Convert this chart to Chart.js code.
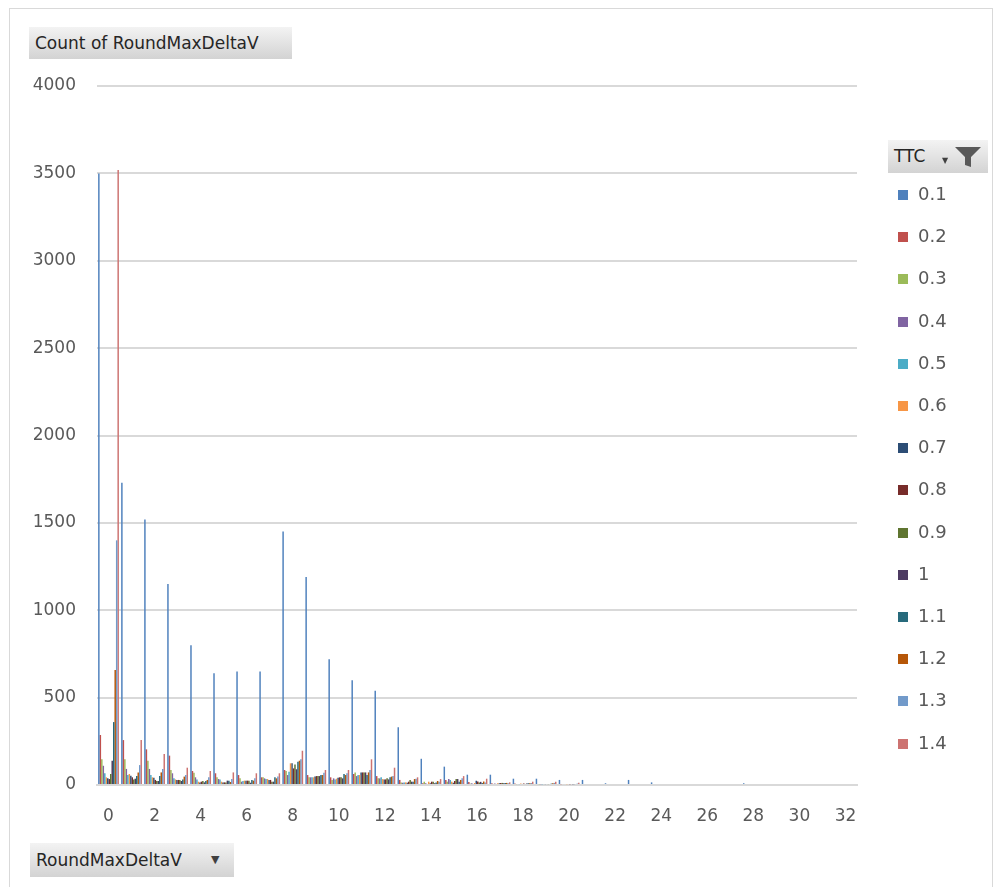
<!DOCTYPE html>
<html lang="en">
<head>
<meta charset="UTF-8">
<title>Count of RoundMaxDeltaV</title>
<script src="https://cdn.jsdelivr.net/npm/chart.js"></script>
<style>
  body { margin: 0; background: #fff; font-family: 'DejaVu Sans', sans-serif; }
  #frame {
    position: absolute; left: 9px; top: 8px; width: 982px; height: 900px;
    border: 1px solid #d9d9d9;
  }
  #chart { position: absolute; left: 0; top: 0; }
  .field {
    position: absolute; box-sizing: border-box;
    background: linear-gradient(#f3f3f3, #d3d3d3);
    color: #262626; font-size: 17px; padding-left: 6px;
  }
  .arrow { position: absolute; font-size: 11px; color: #404040; }
  #legend { position: absolute; left: 898px; top: 186px; }
  .item { position: absolute; left: 0; height: 18px; white-space: nowrap; }
  .item span.box { position: absolute; left: 0; top: 4px; width: 10px; height: 10px; }
  .item span.txt { position: absolute; left: 20px; top: -3px; font-size: 18px; color: #595959; }
</style>
</head>
<body>
<div id="frame"></div>
<canvas id="chart" width="998" height="887"></canvas>

<div class="field" style="left:29px;top:27px;width:263px;height:32px;line-height:32px;">Count of RoundMaxDeltaV</div>
<div class="field" style="left:30px;top:843px;width:204px;height:34px;line-height:34px;">RoundMaxDeltaV
  <span class="arrow" style="left:181px;top:0;">&#9660;</span>
</div>
<div class="field" style="left:888px;top:140px;width:100px;height:33px;line-height:33px;">TTC
  <span class="arrow" style="left:54px;top:4px;font-size:8px;">&#9660;</span>
  <svg style="position:absolute;left:66px;top:6px;" width="28" height="22" viewBox="0 0 28 22">
    <polygon points="1,1 27,1 17,11 17,21 11,19 11,11" fill="#595959"/>
  </svg>
</div>
<div id="legend"></div>

<script>
// RoundMaxDeltaV categories
const categories = ['0','1','2','3','4','5','6','7','8','9','10','11','12','13','14','15','16',
  '17','18','19','20','21','22','23','24','25','26','27','28','29','30','31','32'];

// TTC series names and colours
const seriesNames = ['0.1','0.2','0.3','0.4','0.5','0.6','0.7','0.8','0.9','1','1.1','1.2','1.3','1.4'];
const seriesColors = ['#4F81BD','#C0504D','#9BBB59','#8064A2','#4BACC6','#F79646','#2C4D75',
  '#772C2A','#5F7530','#4D3B62','#276A7C','#B65708','#729ACA','#CD7371'];

// counts per category, one array per TTC value
const ttc01 = [3500,1730,1520,1150,800,640,650,650,1450,1190,720,600,540,330,150,105,59,59,36,36,29,29,10,29,15,0,0,0,10,0,0,0,0];
const ttc02 = [286,257,204,168,80,67,57,44,86,57,44,63,51,29,10,29,17,10,8,6,5,0,0,0,0,0,0,0,0,0,0,0,0];
const ttc03 = [147,147,139,86,70,44,38,44,80,44,29,72,38,15,19,19,8,6,5,4,0,0,0,0,0,0,0,0,0,0,0,0,0];
const ttc04 = [110,92,92,67,44,34,19,38,57,44,38,51,38,13,10,34,10,8,6,5,0,0,0,0,0,0,0,0,0,0,0,0,0];
const ttc05 = [67,57,57,38,32,32,23,34,76,44,32,57,44,15,6,29,6,6,5,4,0,0,0,0,0,0,0,0,0,0,0,0,0];
const ttc06 = [44,63,44,32,19,19,25,34,124,44,36,57,34,15,19,19,12,10,8,6,4,0,0,0,0,0,0,0,0,0,0,0,0];
const ttc07 = [38,53,42,29,15,15,25,29,124,48,42,72,32,13,10,13,25,10,6,5,0,0,0,0,0,0,0,0,0,0,0,0,0];
const ttc08 = [34,44,29,29,19,15,25,29,95,51,44,72,32,19,19,23,20,12,8,6,4,0,0,0,0,0,0,0,0,0,0,0,0];
const ttc09 = [63,32,23,29,23,15,25,19,118,51,44,72,38,29,19,34,15,12,6,5,0,0,0,0,0,0,0,0,0,0,0,0,0];
const ttc10 = [139,36,23,23,15,25,13,19,90,51,38,72,32,19,10,34,18,10,8,6,4,0,0,0,0,0,0,0,0,0,0,0,0];
const ttc11 = [360,51,51,32,23,25,29,44,133,57,63,57,44,19,15,19,12,12,10,8,5,0,0,0,0,0,0,0,0,0,0,0,0];
const ttc12 = [658,72,72,48,29,17,25,38,139,57,57,72,48,34,23,29,20,12,10,10,6,0,0,0,0,0,0,0,0,0,0,0,0];
const ttc13 = [1400,114,92,57,44,34,38,48,147,70,67,86,51,36,19,38,15,10,12,12,8,0,0,0,0,0,0,0,0,0,0,0,0];
const ttc14 = [3520,257,177,99,80,72,67,67,196,86,86,147,99,44,34,51,36,15,19,19,13,0,0,0,0,0,0,0,0,0,0,0,0];

const seriesData = [ttc01,ttc02,ttc03,ttc04,ttc05,ttc06,ttc07,ttc08,ttc09,ttc10,ttc11,ttc12,ttc13,ttc14];

// y axis ticks
const yMax = 4000;
const yStep = 500;

new Chart(document.getElementById('chart'), {
  type: 'bar',
  data: {
    labels: categories,
    datasets: seriesNames.map((name, i) => ({
      label: name,
      data: seriesData[i],
      backgroundColor: seriesColors[i],
      borderWidth: 0,
      categoryPercentage: 14 / 15.5,
      barPercentage: 1.0
    }))
  },
  options: {
    responsive: false,
    animation: false,
    layout: { padding: { left: 0, right: 141, top: 86, bottom: 0 } },
    plugins: { legend: { display: false }, tooltip: { enabled: false } },
    scales: {
      x: {
        grid: { display: false, drawTicks: false },
        border: { color: '#d9d9d9', width: 2 },
        ticks: {
          autoSkip: false, maxRotation: 0, padding: 21,
          color: '#595959', font: { family: 'DejaVu Sans', size: 17 },
          callback: function (v, i) { return i % 2 === 0 ? categories[i] : ''; }
        },
        afterFit: function (s) { s.height = 102; }
      },
      y: {
        min: 0, max: yMax,
        grid: { color: '#d9d9d9', lineWidth: 2, drawTicks: false },
        border: { display: false },
        ticks: {
          stepSize: yStep, padding: 21,
          color: '#595959', font: { family: 'DejaVu Sans', size: 17 },
          callback: function (v) { return String(v); }
        },
        afterFit: function (s) { s.width = 97; }
      }
    }
  }
});

// legend as text, same order as the series
const legend = document.getElementById('legend');
seriesNames.forEach((name, i) => {
  const d = document.createElement('div');
  d.className = 'item';
  d.style.top = (i * 42.2) + 'px';
  d.innerHTML = '<span class="box" style="background:' + seriesColors[i] + '"></span><span class="txt">' + name + '</span>';
  legend.appendChild(d);
});
</script>
</body>
</html>
